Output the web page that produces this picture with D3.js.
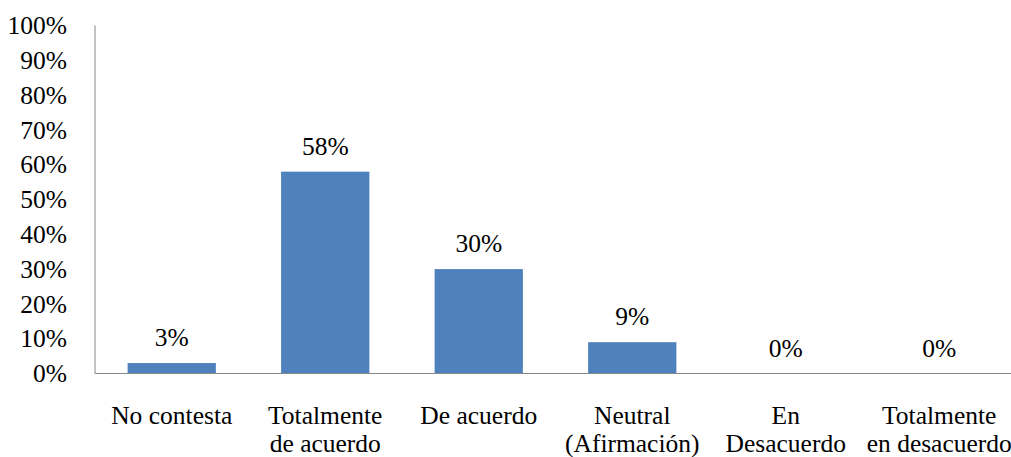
<!DOCTYPE html>
<html>
<head>
<meta charset="utf-8">
<script src="https://cdn.jsdelivr.net/npm/d3@7"></script>
<style>
  html, body { margin: 0; padding: 0; background: #fff; overflow: hidden; }
  svg { display: block; }
</style>
</head>
<body>
<svg id="chart" width="1011" height="457"></svg>
<script>
// Survey responses (share of respondents, %)
const categories = [
  ["No contesta"],
  ["Totalmente", "de acuerdo"],
  ["De acuerdo"],
  ["Neutral", "(Afirmación)"],
  ["En", "Desacuerdo"],
  ["Totalmente", "en desacuerdo"]
];
const values = [3, 58, 30, 9, 0, 0];
const yTicks = [0, 10, 20, 30, 40, 50, 60, 70, 80, 90, 100];

const serif = "'Liberation Serif', 'Times New Roman', serif";
const fontSize = 25.5;
const plot = { left: 95, top: 25.5, bottom: 373.5, bandWidth: 153.5 };

const svg = d3.select("#chart")
  .attr("font-family", serif)
  .attr("font-size", fontSize);

const x = d3.scaleBand()
  .domain(d3.range(categories.length))
  .range([plot.left, plot.left + plot.bandWidth * categories.length])
  .paddingInner(0.425)
  .paddingOuter(0.2125);

const y = d3.scaleLinear().domain([0, 100]).range([plot.bottom, plot.top]);

// Y axis labels (no tick marks)
const yAxis = d3.axisLeft(y)
  .tickValues(yTicks)
  .tickSize(0)
  .tickPadding(28)
  .tickFormat(d => d + "%");
const gy = svg.append("g")
  .attr("transform", `translate(${plot.left},0)`)
  .call(yAxis)
  .attr("font-family", serif)
  .attr("font-size", fontSize);
gy.select(".domain").remove();
gy.selectAll("text").attr("fill", "#000");

// Bars
svg.append("g").selectAll("rect")
  .data(values)
  .join("rect")
  .attr("x", (d, i) => x(i))
  .attr("width", x.bandwidth())
  .attr("y", d => y(d))
  .attr("height", d => y(0) - y(d))
  .attr("fill", "#4F81BD");

// Axis lines
svg.append("line")
  .attr("x1", plot.left).attr("x2", plot.left)
  .attr("y1", y(100)).attr("y2", y(0))
  .attr("stroke", "#868686").attr("stroke-width", 1);
svg.append("line")
  .attr("x1", plot.left).attr("x2", 1011)
  .attr("y1", y(0)).attr("y2", y(0))
  .attr("stroke", "#868686").attr("stroke-width", 1);

// Value labels
svg.append("g").selectAll("text")
  .data(values)
  .join("text")
  .attr("x", (d, i) => x(i) + x.bandwidth() / 2)
  .attr("y", d => y(d) - 17)
  .attr("text-anchor", "middle")
  .attr("fill", "#000")
  .text(d => d + "%");

// Category labels
const cat = svg.append("g").selectAll("text")
  .data(categories)
  .join("text")
  .attr("text-anchor", "middle")
  .attr("fill", "#000")
  .attr("transform", (d, i) => `translate(${x(i) + x.bandwidth() / 2},424)`);
cat.selectAll("tspan")
  .data(d => d)
  .join("tspan")
  .attr("x", 0)
  .attr("dy", (d, j) => j === 0 ? 0 : 28)
  .text(d => d);
</script>
</body>
</html>
